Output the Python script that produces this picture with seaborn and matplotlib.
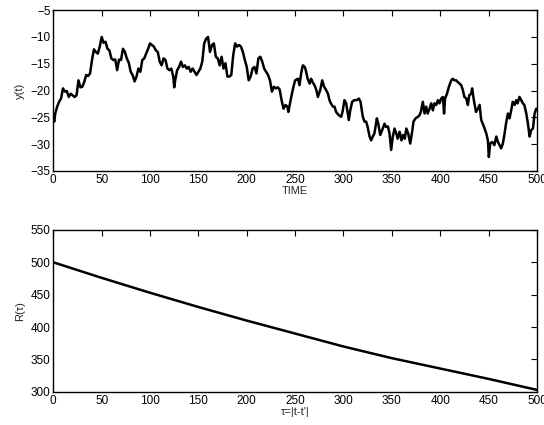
import numpy as np
import pandas as pd
import matplotlib
matplotlib.use('Agg')
import matplotlib.pyplot as plt
import seaborn as sns

# top panel: y(t)
t_vals = [0, 1, 2, 4, 6, 8, 10, 12, 14, 16, 18, 20, 22, 24, 26, 28, 30, 32, 34, 36,
          38, 40, 42, 44, 46, 48, 50, 52, 54, 56, 58, 60, 62, 64, 66, 68, 70, 72, 74, 76,
          78, 80, 82, 84, 86, 88, 90, 92, 94, 96, 98, 100, 102, 104, 106, 108, 110, 112,
          114, 116, 118, 120, 122, 124, 125, 126, 128, 130, 132, 134, 136, 138, 140, 142,
          144, 146, 148, 150, 152, 154, 156, 158, 160, 162, 164, 166, 168, 170, 172, 174,
          176, 178, 180, 182, 184, 186, 188, 190, 192, 194, 196, 198, 200, 202, 204, 206,
          208, 210, 212, 214, 216, 218, 220, 222, 224, 226, 228, 230, 232, 234, 236, 238,
          240, 242, 243, 246, 248, 250, 253, 254.5, 256.5, 258, 260, 261, 263, 265, 266.5,
          268, 270, 272, 273.5, 276, 278, 280, 282, 284, 285.5, 287, 289, 290.7, 292.4,
          295, 297.6, 299, 301, 302.8, 304.5, 305.5, 307, 309, 311, 313.8, 315.9, 317.6,
          320, 321.7, 323.4, 325, 327, 328.6, 330.3, 332, 334.5, 336, 338, 340, 342.4, 344,
          345.9, 347.6, 349.3, 351, 352.8, 354.5, 356, 358, 360, 361.7, 363.4, 365, 366.9,
          369, 371, 372.4, 374.5, 377, 378.6, 380, 382, 383.8, 385.5, 387, 389, 390.7,
          392.4, 394, 395.9, 397.6, 399.3, 401, 402.8, 404, 405, 407, 409, 411.4, 413,
          414.8, 416.6, 418, 420, 421.7, 423.4, 425, 427, 428.6, 430, 432, 433, 434.8, 437,
          439, 440.7, 442.4, 444, 445.9, 447.6, 449.3, 450.3, 451.7, 453.8, 456, 458, 459.7,
          461.4, 463, 464.8, 466.6, 468, 470, 471.7, 473.4, 475, 477, 478.6, 480, 482,
          483.8, 485.5, 487, 489, 490.7, 492.4, 494, 495.9, 497.6, 499.3, 500]
y_vals = [-25.2, -25.8, -24.3, -23.0, -22.1, -21.5, -19.6, -20.2, -20.1, -21.2, -20.6,
          -20.9, -21.2, -20.9, -18.1, -19.4, -19.3, -18.4, -17.1, -17.3, -16.8, -14.3,
          -12.3, -12.8, -13.1, -11.8, -10.0, -11.1, -10.9, -12.2, -12.5, -14.0, -14.3,
          -14.2, -16.2, -14.2, -14.3, -12.2, -12.8, -14.0, -14.8, -16.5, -17.1, -18.3,
          -17.4, -15.9, -16.5, -14.3, -14.0, -13.1, -12.2, -11.2, -11.5, -11.8, -12.5,
          -12.8, -14.6, -15.3, -14.0, -14.3, -15.9, -16.2, -15.9, -17.4, -19.4, -18.1,
          -16.2, -15.6, -14.6, -15.6, -15.3, -15.9, -15.6, -16.5, -15.9, -16.5, -17.1,
          -16.5, -15.9, -14.6, -11.2, -10.3, -10.0, -12.8, -11.5, -11.2, -13.7, -14.0,
          -15.3, -13.7, -15.9, -14.9, -17.4, -17.4, -17.1, -13.4, -11.2, -11.8, -11.5,
          -11.8, -12.8, -14.3, -15.6, -18.1, -17.4, -15.9, -15.6, -16.8, -14.0, -13.7,
          -14.6, -15.9, -16.5, -17.1, -18.1, -20.2, -19.3, -19.6, -19.4, -19.8, -21.8,
          -23.4, -22.7, -23.0, -24.0, -21.2, -19.5, -18.1, -17.8, -19.0, -16.5, -15.3,
          -15.6, -16.2, -17.8, -18.7, -17.8, -18.4, -19.0, -19.9, -21.2, -19.9, -18.1,
          -19.3, -19.9, -20.6, -21.8, -22.4, -23.0, -23.0, -24.0, -24.6, -24.9, -24.0,
          -21.8, -22.4, -24.3, -25.5, -23.7, -22.1, -21.8, -21.8, -21.5, -22.1, -24.9,
          -25.8, -25.8, -26.8, -28.6, -29.3, -28.6, -28.0, -25.2, -26.2, -28.3, -27.4,
          -26.2, -26.8, -26.7, -28.0, -31.1, -28.6, -27.1, -28.0, -29.0, -27.7, -29.3,
          -28.3, -29.0, -27.1, -28.0, -29.9, -27.7, -25.8, -25.2, -24.9, -24.6, -24.0,
          -22.1, -24.3, -23.0, -24.3, -23.4, -22.4, -23.7, -22.4, -22.7, -21.8, -22.4,
          -21.5, -21.2, -24.3, -21.5, -20.6, -19.3, -18.1, -17.8, -18.1, -18.1, -18.4,
          -18.7, -19.0, -19.9, -21.2, -21.5, -22.7, -20.9, -20.6, -19.6, -21.8, -24.0,
          -23.4, -22.7, -25.5, -26.2, -27.1, -28.0, -29.3, -32.4, -29.9, -29.6, -30.2,
          -28.6, -29.6, -30.2, -30.8, -29.9, -28.0, -26.2, -24.3, -25.2, -23.7, -22.1,
          -22.7, -21.8, -22.4, -21.2, -21.8, -22.4, -22.7, -24.3, -26.2, -28.6, -27.4,
          -27.1, -24.3, -23.4, -23.5]

# bottom panel: R(tau)
tau_vals = [0, 50, 100, 150, 200, 250, 300, 350, 400, 450, 500]
r_vals = [500, 476, 453, 431, 410, 390, 370, 352, 336, 320, 303]

sns.set_style('white')
plt.rcParams['font.family'] = ['Liberation Sans', 'DejaVu Sans']
plt.rcParams['font.size'] = 8.5

fig = plt.figure(figsize=(5.44, 4.25), dpi=100)
ax1 = fig.add_axes([0.098, 0.598, 0.889, 0.378])
ax2 = fig.add_axes([0.098, 0.078, 0.889, 0.381])

top = pd.DataFrame({'t': t_vals, 'y': y_vals})
bot = pd.DataFrame({'tau': tau_vals, 'R': r_vals})

sns.lineplot(data=top, x='t', y='y', color='black', lw=1.8, ax=ax1)
sns.lineplot(data=bot, x='tau', y='R', color='black', lw=1.8, ax=ax2)

ax1.set_xlim(0, 500)
ax1.set_ylim(-35, -5)
ax1.set_yticks(np.arange(-35, -4, 5))
ax1.set_xlabel('TIME', fontsize=8, labelpad=0)
ax1.set_ylabel('y(t)', fontsize=8, labelpad=4)

ax2.set_xlim(0, 500)
ax2.set_ylim(300, 550)
ax2.set_yticks(np.arange(300, 551, 50))
ax2.set_xlabel('τ=|t-t\'|', fontsize=8, labelpad=0)
ax2.set_ylabel('R(τ)', fontsize=8, labelpad=4)

for ax in (ax1, ax2):
    ax.set_xticks(np.arange(0, 501, 50))
    ax.tick_params(direction='in', top=True, right=True, length=4.5, width=0.8,
                   pad=2, labelsize=8.5, colors='black')
    for sp in ax.spines.values():
        sp.set_visible(True)
        sp.set_linewidth(1.0)
        sp.set_color('black')

fig.savefig('out.png', dpi=100)
